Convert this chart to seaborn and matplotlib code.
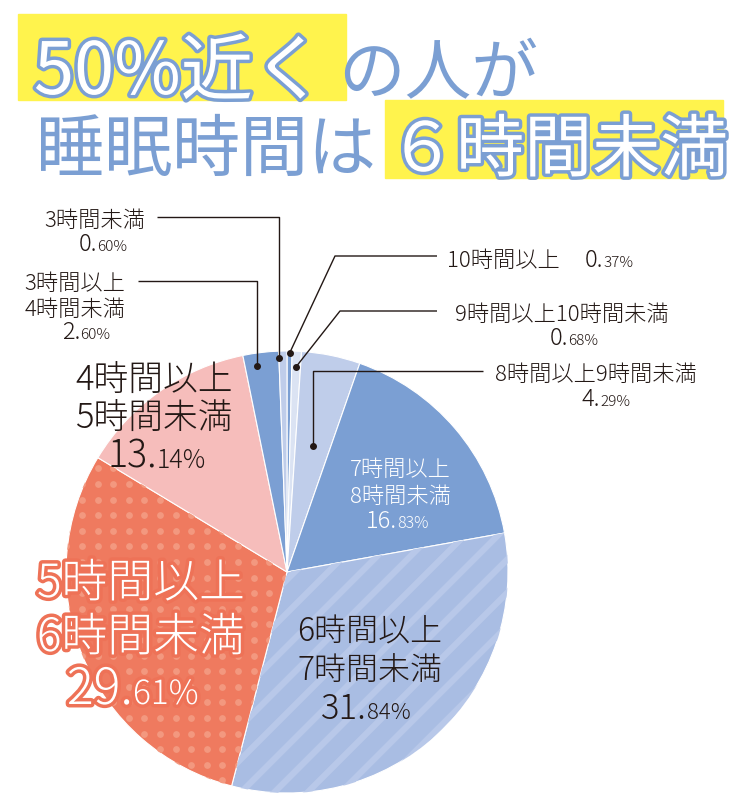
import matplotlib
matplotlib.use("Agg")
import matplotlib.pyplot as plt
import matplotlib.patheffects as pe
from matplotlib.patches import Rectangle, Wedge
import numpy as np
import seaborn as sns

# data (clockwise from 12 o'clock)
categories = ["10時間以上", "9時間以上10時間未満", "8時間以上9時間未満", "7時間以上8時間未満",
              "6時間以上7時間未満", "5時間以上6時間未満", "4時間以上5時間未満",
              "3時間以上4時間未満", "3時間未満"]
shares = [0.37, 0.68, 4.29, 16.83, 31.84, 29.61, 13.14, 2.60, 0.60]
slice_colors = ["#7b9fd3", "#dbe3f3", "#bfcdea", "#7b9fd3", "#a9bde3",
                "#ef7a5f", "#f6bdbb", "#7b9fd3", "#bfcdea"]

title_line1 = ["50%近く", "の人が"]
title_line2 = ["睡眠時間は", "６時間未満"]

sns.set_theme(style="white")
plt.rcParams['font.family'] = ['Noto Sans CJK JP', 'DejaVu Sans']
plt.rcParams['hatch.linewidth'] = 4.5

W, H = 734, 800
CX, CY, R = 287, 572, 221
BLUE = "#7b9fd3"
YELLOW = "#fff34d"
DARK = "#231815"

fig = plt.figure(figsize=(W / 100, H / 100), dpi=100)
ax = fig.add_axes([0, 0, 1, 1])


def Y(y):
    return H - y


# pie
wedges, _ = ax.pie(shares, colors=slice_colors, startangle=90, counterclock=False,
                   center=(CX, Y(CY)), radius=R,
                   wedgeprops=dict(edgecolor="white", linewidth=0.8))
ax.set_xlim(0, W)
ax.set_ylim(0, H)
ax.set_aspect("equal", adjustable="datalim")
ax.axis("off")

# stripes on 6-7h slice
w = wedges[4]
stripe = Wedge(w.center, w.r, w.theta1, w.theta2, facecolor="none",
               edgecolor="#b8c8e9", hatch="/", linewidth=0, zorder=w.get_zorder() + 0.1)
ax.add_patch(stripe)

# dots on 5-6h slice
gx, gy = np.meshgrid(np.arange(4, W, 15.6), np.arange(4, H, 15.6))
dots = ax.scatter(gx.ravel(), gy.ravel(), s=24, color="#f3987f", linewidths=0, zorder=2)
dots.set_clip_path(wedges[5])

# title
ax.add_patch(Rectangle((18, Y(100)), 328, 86, color=YELLOW, zorder=1))
ax.add_patch(Rectangle((385, Y(178)), 338, 78, color=YELLOW, zorder=1))
outline = [pe.withStroke(linewidth=5, foreground=BLUE)]
ax.text(34, Y(94), title_line1[0], fontsize=52, color="white", path_effects=outline,
        ha="left", va="baseline", zorder=5)
ax.text(338, Y(94), title_line1[1], fontsize=48, color=BLUE,
        ha="left", va="baseline", zorder=5)
ax.text(36, Y(171), title_line2[0], fontsize=49, color=BLUE,
        ha="left", va="baseline", zorder=5)
ax.text(388, Y(171), title_line2[1], fontsize=49, color="white", path_effects=outline,
        ha="left", va="baseline", zorder=5)


def pct(xs, y, v, big, small, color=DARK, effects=None):
    a, b = f"{v:.2f}".split(".")
    ax.text(xs, Y(y), a + ".", fontsize=big, color=color, ha="right", va="baseline",
            weight="light", path_effects=effects, zorder=6)
    ax.text(xs, Y(y), b + "%", fontsize=small, color=color, ha="left", va="baseline",
            weight="light", path_effects=effects, zorder=6)


def lines(x, ys, texts, size, color=DARK, effects=None, ha="center"):
    for yy, t in zip(ys, texts):
        ax.text(x, Y(yy), t, fontsize=size, color=color, ha=ha, va="baseline",
                weight="light", path_effects=effects, zorder=6)


# inside labels
lines(400, [476, 503], ["7時間以上", "8時間未満"], 16, color="white")
pct(397, 528, shares[3], 17, 11.5, color="white")

lines(370, [642, 681], ["6時間以上", "7時間未満"], 23)
pct(367, 719, shares[4], 25, 16)

coral = [pe.withStroke(linewidth=5, foreground="#ee7257")]
lines(141, [597, 651], ["5時間以上", "6時間未満"], 33, color="white", effects=coral)
pct(133, 704, shares[5], 36, 24, color="white", effects=coral)

lines(154, [391, 429], ["4時間以上", "5時間未満"], 25)
pct(157, 468, shares[6], 27, 18)

# outside labels
lines(95, [227], ["3時間未満"], 16)
pct(97, 251, shares[8], 17, 11)
lines(75, [290, 316], ["3時間以上", "4時間未満"], 16)
pct(80, 339, shares[7], 17, 11)
lines(447, [267], ["10時間以上"], 16, ha="left")
pct(603, 267, shares[0], 17, 11)
lines(562, [321], ["9時間以上10時間未満"], 16)
pct(568, 345, shares[1], 17, 11)
lines(596, [381], ["8時間以上9時間未満"], 16)
pct(600, 406, shares[2], 17, 11)


# leader lines: anchor inside slice i at angular position t (0..1) and radius frac
def anchor(i, t, frac):
    wd = wedges[i]
    th = np.deg2rad(wd.theta1 + t * (wd.theta2 - wd.theta1))
    return wd.center[0] + frac * wd.r * np.cos(th), wd.center[1] + frac * wd.r * np.sin(th)


leaders = [
    (0, 0.5, 0.99, lambda a: [(335, 256), (437, 256)]),
    (1, 0.5, 0.93, lambda a: [(340, 311), (437, 311)]),
    (2, 0.5, 0.58, lambda a: [(a[0], 371), (483, 371)]),
    (8, 0.95, 0.97, lambda a: [(a[0], 217), (157, 217)]),
    (7, 0.65, 0.94, lambda a: [(a[0], 281), (138, 281)]),
]
for i, t, frac, route in leaders:
    ax0, ay0 = anchor(i, t, frac)
    pts = route((ax0, H - ay0))
    xs = [ax0] + [p[0] for p in pts]
    ys = [ay0] + [Y(p[1]) for p in pts]
    ax.plot(xs, ys, color=DARK, lw=1.0, zorder=7, solid_capstyle="butt")
    ax.plot([ax0], [ay0], "o", color=DARK, ms=4, zorder=8)

fig.savefig("out.png", dpi=100)
